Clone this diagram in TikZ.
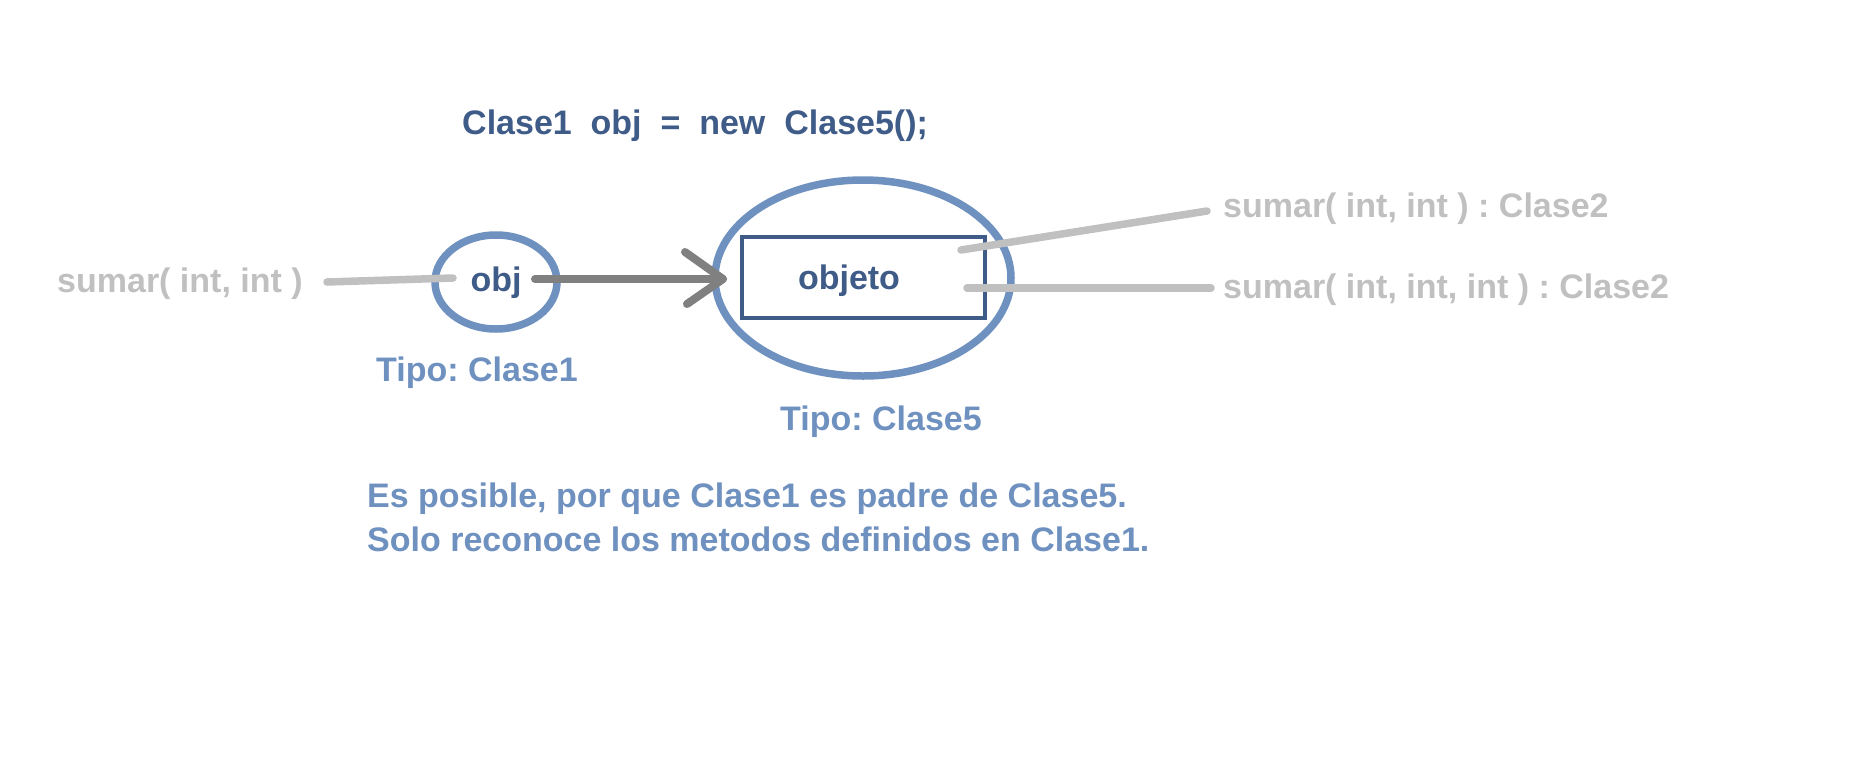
\documentclass[tikz,border=0pt]{standalone}
\usepackage{fontspec}
\setmainfont{Liberation Sans}
\usetikzlibrary{shapes.geometric,calc}
\definecolor{dblue}{HTML}{3F5B87}
\definecolor{lblue}{HTML}{6F91C0}
\definecolor{lgray}{HTML}{C0C0C0}
\definecolor{dgray}{HTML}{808080}
\frenchspacing
\begin{document}
\begin{tikzpicture}[x=1pt,y=-1pt,
  txt/.style={inner sep=0pt, font=\fontsize{34}{40}\selectfont\bfseries},
  darktxt/.style={txt, text=dblue},
  bluetxt/.style={txt, text=lblue},
  graytxt/.style={txt, text=lgray},
  oval/.style={draw=lblue, line width=7.5pt, ellipse, inner sep=0pt},
  box/.style={draw=dblue, line width=4pt, rectangle, inner sep=0pt},
  grayline/.style={draw=lgray, line width=7.5pt, line cap=round},
  arrowline/.style={draw=dgray, line width=8pt, line cap=round, line join=round}]
\useasboundingbox (0,0) rectangle (1856,756);
\fill[white] (0,0) rectangle (1856,756);

% title
\node[darktxt, anchor=base west] (title) at (462,134) {Clase1\ \ obj\ \ =\ \ new\ \ Clase5();};

% small ellipse
\node[oval, minimum width=122, minimum height=94] (e1) at (496,282) {};
\node[darktxt, anchor=base] (objtxt) at (496,291) {obj};
\node[bluetxt, anchor=base] (tipo1) at (477,381) {Tipo: Clase1};

% left method
\node[graytxt, anchor=base west] (sumL) at (57,292) {sumar( int, int )};
\coordinate (l1a) at (327,282);
\coordinate (l1b) at (453,278);
\draw[grayline] (l1a) -- (l1b);

% big ellipse and box
\node[oval, minimum width=296, minimum height=196] (e2) at (863,278) {};
\node[box, minimum width=243, minimum height=81] (rect) at (863.5,277.5) {};
\node[darktxt, anchor=base] (objeto) at (849,289) {objeto};
\node[bluetxt, anchor=base] (tipo5) at (881,430) {Tipo: Clase5};

% arrow
\coordinate (as) at (535,279);
\coordinate (tip) at (723,279);
\draw[arrowline] (as) -- (tip);
\draw[arrowline] ($(tip)+(-38,-27)$) -- (tip) -- ($(tip)+(-36,25)$);

% right methods
\node[graytxt, anchor=base west] (m1) at (1223,217) {sumar( int, int ) : Clase2};
\node[graytxt, anchor=base west] (m2) at (1223,298) {sumar( int, int, int ) : Clase2};
\coordinate (r1a) at (961,250);
\coordinate (r1b) at (1207,211);
\coordinate (r2a) at (967,288);
\coordinate (r2b) at (1211,288);
\draw[grayline] (r1a) -- (r1b);
\draw[grayline] (r2a) -- (r2b);

% explanation
\node[bluetxt, anchor=base west] (es) at (367,507) {Es posible, por que Clase1 es padre de Clase5.};
\node[bluetxt, anchor=base west] (solo) at (367,551) {Solo reconoce los metodos definidos en Clase1.};
\end{tikzpicture}
\end{document}
